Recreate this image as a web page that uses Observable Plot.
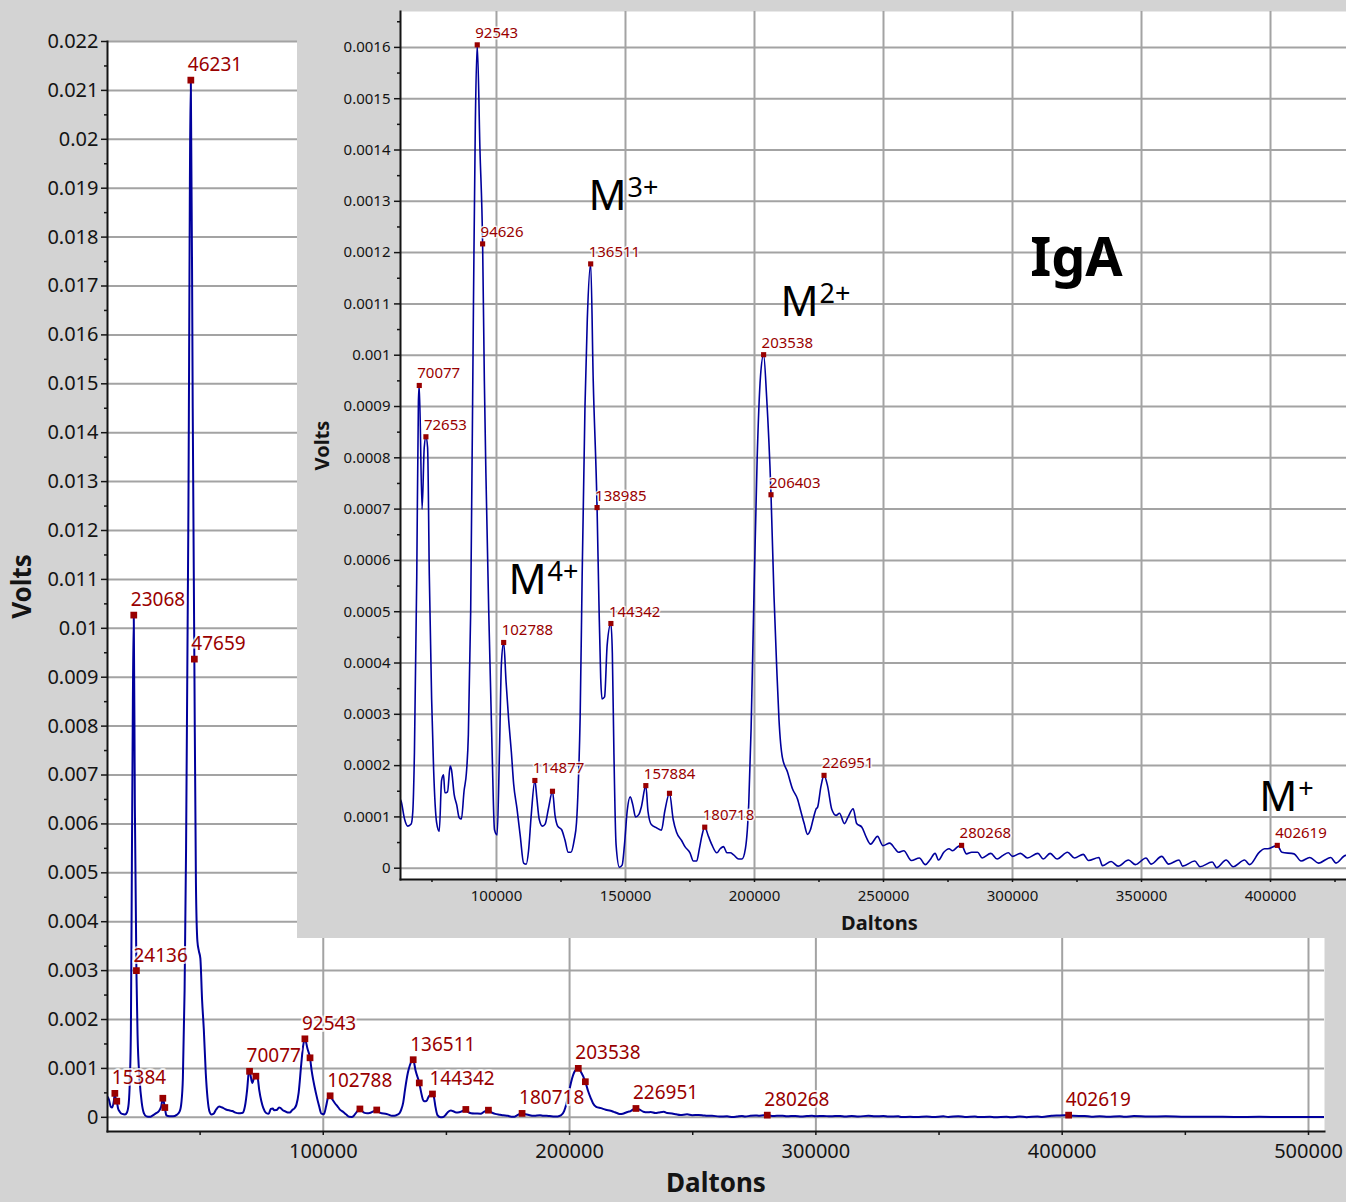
<!DOCTYPE html>
<html>
<head>
<meta charset="utf-8">
<script src="https://cdn.jsdelivr.net/npm/d3@7"></script>
<script src="https://cdn.jsdelivr.net/npm/@observablehq/plot@0.6"></script>
<style>
  html, body { margin: 0; padding: 0; background: #d3d3d3; }
  #wrap { position: relative; width: 1346px; height: 1202px; overflow: hidden; background: #d3d3d3; }
  #main { position: absolute; left: 0; top: 0; }
  #inset { position: absolute; left: 297px; top: 0; width: 1049px; height: 938px; background: #d3d3d3; }
  svg { display: block; }
</style>
</head>
<body>
<div id="wrap">
  <div id="main"></div>
  <div id="inset"></div>
</div>
<script>
// IgA mass spectrum: detector signal (Volts) against mass (Daltons)

// Trace between the annotated peaks
const specMass = [
  12400, 13000, 13700, 14300, 15000, 15800, 16700, 17300, 18300, 19500, 20300, 21000, 21500, 21900,
  22300, 22700, 23500, 24600, 25400, 26300, 27200, 28200, 29500, 30800, 32000, 33300, 34200, 36300,
  37500, 39000, 40500, 41700, 42400, 43000, 43700, 44300, 45200, 47000, 48300, 48900, 49500, 50100,
  50800, 51500, 52300, 53000, 53800, 54600, 55400, 56500, 57700, 59000, 60500, 62000,
  63078, 64360, 65640, 66930, 67565, 68200, 69100, 69745, 71160, 72000, 73300, 73975, 74870, 75640,
  76800, 77820, 78720, 79490, 80000, 81030, 82050, 82560, 83590, 84610, 85510, 86410, 87440, 88330,
  89100, 90000, 91080, 91800, 93600, 95300, 95900, 97000, 98300, 99230, 100260, 101150, 101920,
  103720, 104740, 105770, 106660, 107950, 109230, 110510, 111540, 112430, 113460, 115640, 116540,
  117820, 118850, 120130, 122690, 123720, 125260, 126540, 127820, 128850, 130130, 131020, 131660,
  132430, 133200, 134300, 135200, 137500, 139700, 140400, 140900, 141900, 142900, 144900, 145500,
  146350, 147650, 148700, 149610, 150650, 151820, 152860, 153900, 155200, 156120, 158720, 160020,
  161980, 163930, 165230, 168490, 169790, 171740, 173040, 175000, 176300, 177600, 178640, 179560,
  182160, 183460, 185410, 186720, 188020, 189320, 190620, 191920, 193870, 195170, 196480, 197780,
  198690, 199730, 201040, 202340, 204690, 207550, 208590, 209500, 210800, 212760, 214710, 216660,
  217960, 219260, 220560, 221610, 222910, 223820, 224470, 225770, 228340, 229940, 231630, 232930,
  234880, 236190, 238250, 239600, 241620, 243250, 245000, 247700, 249730, 252430, 254460, 255810,
  257840, 260810, 263920, 266210, 267970, 270000, 271350, 273370, 275400, 276750, 278770, 282150,
  284180, 286480, 288230, 291610, 294040, 296340, 298370, 300000, 303090, 305800, 309850, 311880,
  314580, 317280, 321330, 324030, 327410, 329430, 333490, 334840, 338220, 340920, 344970, 347670,
  351730, 353760, 357810, 360510, 364570, 365920, 370640, 372670, 377400, 379150, 382800, 385500,
  389960, 391850, 395630, 397660, 399010, 404420, 409150, 411850, 415230, 418600, 423330, 425360,
  429150, 435000, 442000, 450000, 460000, 470000, 480000, 490000, 500000, 508000
];
const specVolts = [
  0.00042, 0.00036, 0.00022, 0.0002, 0.00034, 0.00036, 0.00018, 0.00012, 0.00007, 0.00006, 0.0001, 0.00028, 0.0008, 0.0018,
  0.0052, 0.0085, 0.0064, 0.0017, 0.0008, 0.0003, 0.00008, 0.00002, 0.00001, 0.00004, 0.00008, 0.00013, 0.00022, 0.00004,
  0.00002, 0.00002, 0.00005, 0.00012, 0.0003, 0.0008, 0.0026, 0.0055, 0.012, 0.0145, 0.0048, 0.0036, 0.0034, 0.00325,
  0.0024, 0.0018, 0.0009, 0.0004, 0.00012, 0.00006, 0.00007, 0.00016, 0.00022, 0.0002, 0.00016, 0.00014,
  0.00013, 0.000096, 0.000082, 0.000086, 0.00011, 0.000226, 0.000568, 0.00091, 0.0007, 0.00082, 0.00082, 0.000568, 0.000329, 0.000192,
  0.000089, 0.000072, 0.000171, 0.000182, 0.000147, 0.000149, 0.000199, 0.000192, 0.000144, 0.000123, 0.000099, 0.000096, 0.000151, 0.000185,
  0.00026, 0.0005, 0.0011, 0.00145, 0.0014, 0.00095, 0.00077, 0.0005, 0.00023, 0.000075, 0.000065, 0.000226, 0.0004,
  0.000363, 0.000288, 0.000226, 0.000164, 0.000116, 0.000062, 0.00001, 0.000008, 0.000034, 0.000103, 0.000137, 0.000096,
  0.000082, 0.000086, 0.000116, 0.000103, 0.000082, 0.000075, 0.000055, 0.000031, 0.000031, 0.000055, 0.000089, 0.000158,
  0.000295, 0.000568, 0.0009, 0.00107, 0.00095, 0.00052, 0.00037, 0.00033, 0.000334, 0.000435, 0.00042, 0.00023,
  0.000046, 0.000002, 0.000006, 0.000046, 0.000111, 0.000139, 0.000123, 0.0001, 0.000105, 0.000119, 0.000111, 0.000085,
  0.000079, 0.000074, 0.000111, 0.000095, 0.00007, 0.000054, 0.000042, 0.00003, 0.000014, 0.000014, 0.000038, 0.000062,
  0.000062, 0.000046, 0.00003, 0.000038, 0.000042, 0.00003, 0.00003, 0.000026, 0.000018, 0.000018, 0.000038, 0.000127,
  0.000273, 0.000516, 0.0008, 0.00096, 0.00092, 0.000532, 0.000394, 0.000289, 0.000216, 0.000188, 0.000155, 0.000135,
  0.000111, 0.000087, 0.000066, 0.000074, 0.000099, 0.000115, 0.000119, 0.00016, 0.00016, 0.000115, 0.000103, 0.000107,
  0.000087, 0.000099, 0.000116, 0.000087, 0.00008, 0.000061, 0.000047, 0.000062, 0.000044, 0.000049, 0.000038, 0.000031,
  0.000034, 0.000015, 0.00002, 0.000007, 0.000016, 0.000029, 0.000016, 0.000031, 0.000038, 0.000034, 0.000042, 0.000028,
  0.000031, 0.000031, 0.00002, 0.000029, 0.000018, 0.000025, 0.00003, 0.000023, 0.000029, 0.00002, 0.000029, 0.000018,
  0.000029, 0.000018, 0.000031, 0.00002, 0.000027, 0.000015, 0.000021, 0.000005, 0.000013, 0.000004, 0.000016, 0.000007,
  0.00002, 0.000008, 0.000023, 0.000008, 0.000016, 0.000004, 0.000014, 0.000003, 0.000012, 0.000001, 0.000016, 0.000003,
  0.000016, 0.000007, 0.000031, 0.000038, 0.000038, 0.000031, 0.000028, 0.000014, 0.000021, 0.00001, 0.000021, 0.00001,
  0.000025, 0.000015, 0.00002, 0.00001, 0.000012, 0.000008, 0.00001, 0.000005, 0.000008, 0.000006
];

// Picked peaks (mass in Da, signal in V)
const peakMass = [
  15384, 16160, 23068, 24136, 34860, 35670, 46231, 47659, 70077, 72653, 92543, 94626, 102788,
  114877, 121705, 136511, 138985, 144342, 157884, 167054, 180718, 203538, 206403, 226951, 280268, 402619
];
const peakVolts = [
  0.00049, 0.00033, 0.01027, 0.0030, 0.00039, 0.0002, 0.02121, 0.00937, 0.000941, 0.000841, 0.001605, 0.001217, 0.00044,
  0.000171, 0.00015, 0.001178, 0.000703, 0.000477, 0.000161, 0.000146, 0.00008, 0.001001, 0.000728, 0.000181, 0.0000445, 0.0000445
];

// Peaks carrying a mass label in each panel
const mainLabeled = [15384, 23068, 24136, 46231, 47659, 70077, 92543, 102788, 136511, 144342, 180718, 203538, 226951, 280268, 402619];
const insetLabeled = [70077, 72653, 92543, 94626, 102788, 114877, 136511, 138985, 144342, 157884, 180718, 203538, 206403, 226951, 280268, 402619];

// Charge-state annotations on the zoomed panel
const chargeBase = ["M", "M", "M", "M"];
const chargeSup = ["3+", "2+", "4+", "+"];
const chargeMass = [135660, 210080, 104650, 395640];
const chargeVolts = [0.001284, 0.001077, 0.000534, 0.000112];
const sampleName = ["IgA"];
const sampleMass = [324800];
const sampleVolts = [0.001155];

// Ticks
const mainYTicks = d3.range(0, 23).map(i => i / 1000);
const mainYMinor = d3.range(0, 22).map(i => (2 * i + 1) / 2000);
const mainXTicks = [100000, 200000, 300000, 400000, 500000];
const mainXMinor = [50000, 150000, 250000, 350000, 450000];
const insetYTicks = d3.range(0, 17).map(i => i / 10000);
const insetYMinor = d3.range(0, 17).map(i => (2 * i + 1) / 20000);
const insetXTicks = [100000, 150000, 200000, 250000, 300000, 350000, 400000];
const insetXMinor = [75000, 125000, 175000, 225000, 275000, 325000, 375000, 425000];

const INK = "#00009c";
const PEAK = "#990000";
const GRID = "#a3a3a3";
const TEXT = "#141414";
const FONT = "'Noto Sans', 'Open Sans', sans-serif";

const spectrum = d3.sort(
  specMass.map((m, i) => ({mass: m, volts: specVolts[i]}))
    .concat(peakMass.map((m, i) => ({mass: m, volts: peakVolts[i]}))),
  d => d.mass
);
const peaks = peakMass.map((m, i) => ({mass: m, volts: peakVolts[i], label: String(m)}));
const mainLabels = peaks.filter(d => mainLabeled.includes(d.mass));
const insetLabels = peaks.filter(d => insetLabeled.includes(d.mass));
const charges = chargeBase.map((b, i) => ({base: b, sup: chargeSup[i], mass: chargeMass[i], volts: chargeVolts[i]}));
const sample = sampleName.map((s, i) => ({name: s, mass: sampleMass[i], volts: sampleVolts[i]}));

const fmtY = digits => d => String(+d.toFixed(digits));
const blank = () => "";

// Full-range spectrum
const mainPlot = Plot.plot({
  width: 1346, height: 1202,
  marginLeft: 107, marginRight: 22, marginTop: 41, marginBottom: 71,
  x: {domain: [12400, 506500], label: null},
  y: {domain: [-0.00029, 0.022], label: null},
  style: {background: "transparent", fontFamily: FONT, color: TEXT, overflow: "visible"},
  marks: [
    Plot.frame({fill: "white", stroke: "none"}),
    Plot.gridY(mainYTicks, {stroke: GRID, strokeOpacity: 1, strokeWidth: 2}),
    Plot.gridX(mainXTicks, {stroke: GRID, strokeOpacity: 1, strokeWidth: 2}),
    Plot.line(spectrum, {x: "mass", y: "volts", stroke: INK, strokeWidth: 2, curve: "monotone-x", clip: true}),
    Plot.dot(peaks, {x: "mass", y: "volts", symbol: "square", r: 3.8, fill: PEAK}),
    Plot.text(mainLabels, {
      x: "mass", y: "volts", text: "label", textAnchor: "start", lineAnchor: "bottom",
      dx: -3, dy: -9, fontSize: 19, fill: PEAK, stroke: "white", strokeWidth: 4, strokeOpacity: 0.75
    }),
    Plot.axisY(mainYTicks, {tickSize: 6, tickPadding: 3, tickFormat: fmtY(3), fontSize: 20, label: null, strokeWidth: 1.5}),
    Plot.axisY(mainYMinor, {tickSize: 3, tickFormat: blank, label: null, strokeWidth: 1.5}),
    Plot.axisX(mainXTicks, {tickSize: 4, tickPadding: 8, tickFormat: d => String(d), fontSize: 20, label: null, strokeWidth: 1.5}),
    Plot.axisX(mainXMinor, {tickSize: 4, tickFormat: blank, label: null, strokeWidth: 1.5}),
    Plot.frame({anchor: "left", strokeWidth: 2}),
    Plot.frame({anchor: "bottom", strokeWidth: 2}),
    Plot.text(["Volts"], {text: d => d, frameAnchor: "left", textAnchor: "middle", lineAnchor: "middle",
      dx: -85, rotate: -90, fontSize: 26, fontWeight: "bold"}),
    Plot.text(["Daltons"], {text: d => d, frameAnchor: "bottom", textAnchor: "middle", lineAnchor: "middle",
      dy: 52, fontSize: 26, fontWeight: "bold"})
  ]
});
document.getElementById("main").append(mainPlot);

// Zoomed view of the multiply charged region
const insetPlot = Plot.plot({
  width: 1049, height: 938,
  marginLeft: 103, marginRight: 0, marginTop: 11, marginBottom: 59,
  x: {domain: [62800, 429450], label: null},
  y: {domain: [-0.000022, 0.00167], label: null},
  style: {background: "transparent", fontFamily: FONT, color: TEXT, overflow: "visible"},
  marks: [
    Plot.frame({fill: "white", stroke: "none"}),
    Plot.gridY(insetYTicks, {stroke: GRID, strokeOpacity: 1, strokeWidth: 2}),
    Plot.gridX(insetXTicks, {stroke: GRID, strokeOpacity: 1, strokeWidth: 2}),
    Plot.line(spectrum, {x: "mass", y: "volts", stroke: INK, strokeWidth: 1.6, curve: "monotone-x", clip: true}),
    Plot.dot(peaks, {x: "mass", y: "volts", symbol: "square", r: 2.9, fill: PEAK, clip: true}),
    Plot.text(insetLabels, {
      x: "mass", y: "volts", text: "label", textAnchor: "start", lineAnchor: "bottom",
      dx: -2, dy: -7, fontSize: 15, fill: PEAK, stroke: "white", strokeWidth: 3, strokeOpacity: 0.75
    }),
    Plot.text(charges, {x: "mass", y: "volts", text: "base", textAnchor: "start", lineAnchor: "bottom",
      fontSize: 42, fill: "black"}),
    Plot.text(charges, {x: "mass", y: "volts", text: "sup", textAnchor: "start", lineAnchor: "bottom",
      dx: 39, dy: -13, fontSize: 27, fill: "black"}),
    Plot.text(sample, {x: "mass", y: "volts", text: "name", textAnchor: "middle", lineAnchor: "bottom",
      fontSize: 54, fontWeight: "bold", fill: "black"}),
    Plot.axisY(insetYTicks, {tickSize: 6, tickPadding: 4, tickFormat: fmtY(4), fontSize: 15, label: null, strokeWidth: 1.5}),
    Plot.axisY(insetYMinor, {tickSize: 3, tickFormat: blank, label: null, strokeWidth: 1.5}),
    Plot.axisX(insetXTicks, {tickSize: 3, tickPadding: 8, tickFormat: d => String(d), fontSize: 15, label: null, strokeWidth: 1.5}),
    Plot.axisX(insetXMinor, {tickSize: 3, tickFormat: blank, label: null, strokeWidth: 1.5}),
    Plot.frame({anchor: "left", strokeWidth: 2}),
    Plot.frame({anchor: "bottom", strokeWidth: 2}),
    Plot.text(["Volts"], {text: d => d, frameAnchor: "left", textAnchor: "middle", lineAnchor: "middle",
      dx: -78, rotate: -90, fontSize: 20, fontWeight: "bold"}),
    Plot.text(["Daltons"], {text: d => d, frameAnchor: "bottom", textAnchor: "middle", lineAnchor: "middle",
      dx: 6, dy: 44, fontSize: 20, fontWeight: "bold"})
  ]
});
document.getElementById("inset").append(insetPlot);
</script>
</body>
</html>
